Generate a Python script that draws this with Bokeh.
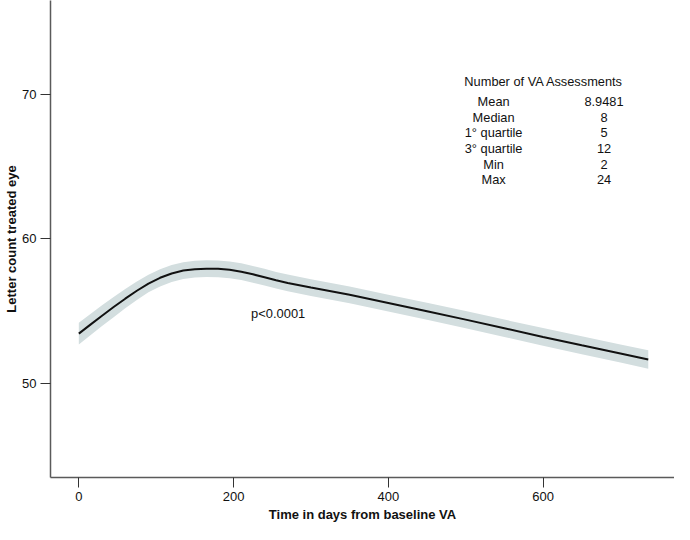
from bokeh.plotting import figure
from bokeh.models import ColumnDataSource, FixedTicker, Range1d
from bokeh.embed import file_html
from bokeh.resources import INLINE
from bokeh.core.properties import value

# ---- data ----
days = [0, 15, 30, 45, 60, 75, 90, 105, 120, 135, 150, 165, 180, 195, 210,
        225, 240, 255, 270, 300, 350, 400, 450, 500, 550, 600, 650, 700, 736]
fit = [53.43, 54.05, 54.67, 55.27, 55.85, 56.4, 56.9, 57.3, 57.6, 57.8,
       57.9, 57.93, 57.92, 57.85, 57.72, 57.54, 57.34, 57.13, 56.94, 56.62,
       56.12, 55.55, 54.98, 54.4, 53.8, 53.2, 52.62, 52.05, 51.64]
upper = [54.19, 54.79, 55.39, 55.97, 56.52, 57.04, 57.51, 57.9, 58.19, 58.38,
         58.48, 58.51, 58.5, 58.43, 58.3, 58.12, 57.92, 57.71, 57.52, 57.2,
         56.7, 56.13, 55.57, 55.0, 54.4, 53.81, 53.24, 52.68, 52.28]
lower = [52.67, 53.31, 53.95, 54.57, 55.18, 55.76, 56.29, 56.7, 57.01, 57.22,
         57.32, 57.35, 57.34, 57.27, 57.14, 56.96, 56.76, 56.55, 56.36, 56.04,
         55.54, 54.97, 54.39, 53.8, 53.2, 52.59, 52.0, 51.42, 51.0]

x_ticks = [0, 200, 400, 600]
y_ticks = [50, 60, 70]

table_title = "Number of VA Assessments"
stat_names = ["Mean", "Median", "1\u00b0 quartile", "3\u00b0 quartile", "Min", "Max"]
stat_values = ["8.9481", "8", "5", "12", "2", "24"]
p_text = "p<0.0001"

FONT = "Liberation Sans"
INK = "#111111"

# ---- figure ----
src = ColumnDataSource(dict(days=days, fit=fit, upper=upper, lower=lower))

p = figure(width=674, height=524, output_backend="svg", toolbar_location=None,
           x_range=Range1d(-36.6, 769.9), y_range=Range1d(43.45, 76.53),
           min_border_left=50, min_border_right=0, min_border_top=0,
           min_border_bottom=47)
p.outline_line_color = None
p.xgrid.grid_line_color = None
p.ygrid.grid_line_color = None
p.background_fill_color = "white"
p.border_fill_color = "white"

p.varea(x="days", y1="lower", y2="upper", source=src, fill_color="#d3dedf")
p.line(x="days", y="fit", source=src, line_color=INK, line_width=2)

# annotation text
p.text(x=[222.7], y=[54.8], text=[p_text], text_font=value(FONT),
       text_font_size="12.9px", text_align="left", text_baseline="middle",
       text_color=INK)

row_step = 1.083
title_y = 70.93
p.text(x=[601.1], y=[title_y], text=[table_title], text_font=value(FONT),
       text_font_size="12.8px", text_align="center", text_baseline="middle",
       text_color=INK)
rows_y = [title_y - row_step * (i + 1.3) for i in range(len(stat_names))]
p.text(x=[536.1] * len(stat_names), y=rows_y, text=stat_names,
       text_font=value(FONT), text_font_size="12.8px", text_align="center",
       text_baseline="middle", text_color=INK)
p.text(x=[678.8] * len(stat_values), y=rows_y, text=stat_values,
       text_font=value(FONT), text_font_size="12.8px", text_align="center",
       text_baseline="middle", text_color=INK)

# axes
p.xaxis.ticker = FixedTicker(ticks=x_ticks)
p.yaxis.ticker = FixedTicker(ticks=y_ticks)
p.xaxis.axis_label = "Time in days from baseline VA"
p.yaxis.axis_label = "Letter count treated eye"
for ax in (p.xaxis[0], p.yaxis[0]):
    ax.axis_label_text_font = FONT
    ax.axis_label_text_font_style = "bold"
    ax.axis_label_text_font_size = "13px"
    ax.axis_label_text_color = INK
    ax.major_label_text_font = FONT
    ax.major_label_text_font_size = "13px"
    ax.major_label_text_color = INK
    ax.axis_line_color = "#5a5a5a"
    ax.axis_line_width = 1.5
    ax.major_tick_line_color = "#333333"
    ax.major_tick_in = 0
    ax.major_tick_out = 10
    ax.minor_tick_line_color = None
p.xaxis[0].major_label_standoff = 4
p.xaxis[0].axis_label_standoff = 3
p.yaxis[0].major_label_standoff = 4
p.yaxis[0].axis_label_standoff = 0

open("out.html", "w").write(file_html(p, INLINE))
